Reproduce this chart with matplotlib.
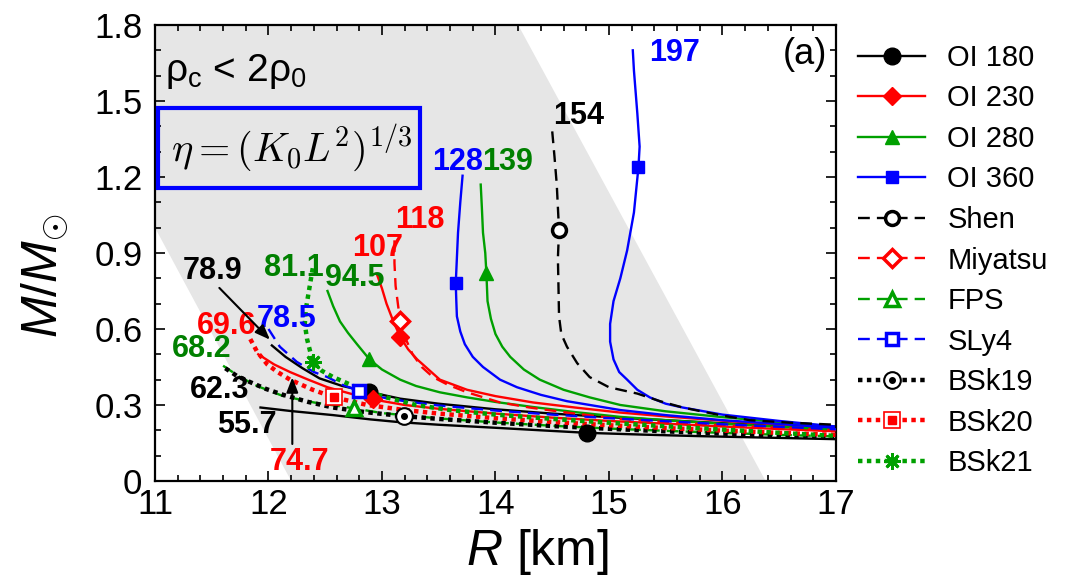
import matplotlib
matplotlib.use('Agg')
import matplotlib.pyplot as plt
from matplotlib.lines import Line2D
from matplotlib.patches import Polygon, Rectangle
from matplotlib.ticker import MultipleLocator, FuncFormatter

plt.rcParams['font.family'] = ['Liberation Sans', 'DejaVu Sans']
plt.rcParams['mathtext.fontset'] = 'custom'
plt.rcParams['mathtext.rm'] = 'Liberation Sans'
plt.rcParams['mathtext.it'] = 'Liberation Sans:italic'

# M-R curves (R in km, M in solar masses), one pair of lists per curve
oi180_a_R = [11.93, 12.2, 12.57, 12.9, 13.16, 13.5, 14.0, 14.4, 14.81, 15.3, 15.8, 16.4, 17.0]
oi180_a_M = [0.29, 0.276, 0.26, 0.243, 0.232, 0.222, 0.21, 0.2, 0.19, 0.183, 0.177, 0.171, 0.165]
oi180_b_R = [12.03, 12.15, 12.3, 12.45, 12.65, 12.89, 13.16, 13.5, 14.0, 14.5, 15.0, 15.5, 16.0, 16.5, 17.0]
oi180_b_M = [0.535, 0.49, 0.445, 0.405, 0.375, 0.351, 0.325, 0.305, 0.283, 0.266, 0.252, 0.24, 0.228, 0.218, 0.208]

oi230_a_R = [11.91, 12.05, 12.19, 12.35, 12.52, 12.72, 12.92, 13.2, 13.5, 14.0, 14.5, 15.0, 15.5, 16.0, 16.5, 17.0]
oi230_a_M = [0.50, 0.46, 0.43, 0.40, 0.37, 0.345, 0.322, 0.3, 0.285, 0.266, 0.25, 0.237, 0.226, 0.215, 0.205, 0.196]
oi230_b_R = [12.96, 13.0, 13.04, 13.1, 13.16, 13.23, 13.31, 13.41, 13.51, 13.75, 14.0, 14.33, 14.7, 15.1, 15.5, 16.0, 16.5, 17.0]
oi230_b_M = [0.81, 0.76, 0.70, 0.63, 0.57, 0.52, 0.48, 0.44, 0.40, 0.36, 0.335, 0.31, 0.29, 0.27, 0.255, 0.238, 0.222, 0.208]

oi280_a_R = [12.52, 12.57, 12.63, 12.7, 12.78, 12.89, 13.0, 13.16, 13.3, 13.51, 13.75, 14.0, 14.33, 14.7, 15.1, 15.5, 16.0, 16.5, 17.0]
oi280_a_M = [0.75, 0.69, 0.63, 0.585, 0.54, 0.48, 0.44, 0.40, 0.375, 0.35, 0.33, 0.312, 0.292, 0.272, 0.253, 0.24, 0.226, 0.214, 0.203]
oi280_b_R = [13.87, 13.88, 13.89, 13.91, 13.92, 13.93, 13.96, 14.0, 14.06, 14.13, 14.25, 14.39, 14.6, 14.83, 15.1, 15.5, 16.0, 16.5, 17.0]
oi280_b_M = [1.17, 1.08, 0.98, 0.90, 0.82, 0.71, 0.64, 0.58, 0.53, 0.49, 0.44, 0.40, 0.36, 0.33, 0.30, 0.275, 0.252, 0.232, 0.215]

oi360_a_R = [13.71, 13.69, 13.67, 13.66, 13.65, 13.655, 13.66, 13.69, 13.73, 13.8, 13.89, 14.04, 14.19, 14.4, 14.63, 15.1, 15.5, 16.0, 16.5, 17.0]
oi360_a_M = [1.205, 1.10, 0.98, 0.88, 0.78, 0.71, 0.65, 0.59, 0.54, 0.49, 0.45, 0.40, 0.37, 0.34, 0.315, 0.28, 0.26, 0.24, 0.225, 0.21]
oi360_b_R = [15.21, 15.22, 15.25, 15.27, 15.26, 15.22, 15.16, 15.1, 15.04, 15.01, 15.01, 15.04, 15.09, 15.16, 15.25, 15.36, 15.5, 15.65, 16.0, 16.5, 17.0]
oi360_b_M = [1.70, 1.62, 1.45, 1.32, 1.24, 1.06, 0.91, 0.80, 0.71, 0.62, 0.55, 0.48, 0.43, 0.40, 0.36, 0.33, 0.305, 0.29, 0.262, 0.237, 0.215]

shen_R = [14.50, 14.52, 14.54, 14.56, 14.55, 14.555, 14.56, 14.58, 14.63, 14.72, 14.83, 15.0, 15.25, 15.45, 15.65, 16.0, 16.24, 16.6, 17.0]
shen_M = [1.38, 1.28, 1.17, 0.99, 0.88, 0.77, 0.65, 0.58, 0.53, 0.465, 0.41, 0.37, 0.345, 0.315, 0.29, 0.258, 0.24, 0.23, 0.222]
miyatsu_R = [13.11, 13.11, 13.12, 13.16, 13.21, 13.27, 13.35, 13.45, 13.58, 13.75, 14.04, 14.3, 14.63, 15.1, 15.5, 16.0, 16.5, 17.0]
miyatsu_M = [0.95, 0.86, 0.77, 0.63, 0.56, 0.50, 0.45, 0.41, 0.38, 0.35, 0.31, 0.29, 0.27, 0.245, 0.232, 0.22, 0.21, 0.20]
fps_R = [11.6, 11.75, 11.9, 12.13, 12.4, 12.75, 13.0, 13.5, 14.0, 14.5, 15.0, 15.5, 16.0, 16.5, 17.0]
fps_M = [0.455, 0.41, 0.375, 0.335, 0.31, 0.287, 0.268, 0.247, 0.231, 0.218, 0.207, 0.198, 0.19, 0.182, 0.176]
sly4_R = [12.0, 12.1, 12.25, 12.4, 12.52, 12.65, 12.8, 13.0, 13.2, 13.5, 14.0, 14.5, 15.0, 15.5, 16.0, 16.5, 17.0]
sly4_M = [0.60, 0.53, 0.47, 0.43, 0.41, 0.38, 0.355, 0.33, 0.315, 0.298, 0.278, 0.262, 0.248, 0.236, 0.224, 0.214, 0.204]
bsk19_R = [11.62, 11.72, 11.84, 11.98, 12.13, 12.35, 12.57, 12.85, 13.19, 13.5, 14.0, 14.5, 15.0, 15.5, 16.0, 16.5, 17.0]
bsk19_M = [0.445, 0.415, 0.39, 0.363, 0.34, 0.312, 0.29, 0.272, 0.256, 0.245, 0.23, 0.217, 0.206, 0.196, 0.187, 0.179, 0.172]
bsk20_R = [11.84, 11.9, 11.99, 12.08, 12.19, 12.39, 12.58, 12.87, 13.2, 13.5, 14.0, 14.5, 15.0, 15.5, 16.0, 16.5, 17.0]
bsk20_M = [0.56, 0.51, 0.46, 0.43, 0.40, 0.36, 0.33, 0.30, 0.28, 0.266, 0.248, 0.233, 0.22, 0.209, 0.199, 0.19, 0.182]
bsk21_R = [12.39, 12.36, 12.33, 12.32, 12.34, 12.39, 12.47, 12.57, 12.8, 13.04, 13.3, 13.6, 14.0, 14.5, 15.0, 15.5, 16.0, 16.5, 17.0]
bsk21_M = [0.84, 0.76, 0.68, 0.62, 0.56, 0.47, 0.435, 0.41, 0.365, 0.33, 0.30, 0.28, 0.262, 0.245, 0.23, 0.216, 0.203, 0.19, 0.178]

# marked points on each curve
oi180_mark = ([12.89, 14.81], [0.351, 0.19])
oi230_mark = ([12.92, 13.16], [0.322, 0.57])
oi280_mark = ([12.89, 13.92], [0.48, 0.82])
oi360_mark = ([13.65, 15.26], [0.78, 1.24])
shen_mark = ([14.56], [0.99])
miyatsu_mark = ([13.16], [0.63])
fps_mark = ([12.75], [0.287])
sly4_mark = ([12.8], [0.355])
bsk19_mark = ([13.19], [0.256])
bsk20_mark = ([12.58], [0.33])
bsk21_mark = ([12.39], [0.47])

# eta values written next to the curves
eta_labels = ['197', '154', '128', '139', '118', '107', '81.1', '94.5',
              '78.9', '78.5', '69.6', '68.2', '62.3', '55.7', '74.7']

# region where rho_c < 2 rho_0
region_R = [11.0, 14.2, 16.38, 12.2, 11.0]
region_M = [1.8, 1.8, 0.0, 0.0, 1.0]

BLACK = 'black'
RED = '#ff0000'
GREEN = '#00a000'
DGREEN = '#008000'
BLUE = '#0000ff'

fig = plt.figure(figsize=(10.77, 5.84), dpi=100)
ax = fig.add_axes([0.1439, 0.1764, 0.6323, 0.7808])

ax.add_patch(Polygon(list(zip(region_R, region_M)), closed=True,
                     facecolor='#e6e6e6', edgecolor='none', zorder=0))

lw = 1.7
dash = (0, (5, 3))
dot = (0, (1, 1))

# OI EOS (solid)
for R, M, c in [(oi180_a_R, oi180_a_M, BLACK), (oi180_b_R, oi180_b_M, BLACK),
                (oi230_a_R, oi230_a_M, RED), (oi230_b_R, oi230_b_M, RED),
                (oi280_a_R, oi280_a_M, GREEN), (oi280_b_R, oi280_b_M, GREEN),
                (oi360_a_R, oi360_a_M, BLUE), (oi360_b_R, oi360_b_M, BLUE)]:
    ax.plot(R, M, color=c, lw=lw, zorder=2)

# other EOS (dashed)
for R, M, c in [(shen_R, shen_M, BLACK), (miyatsu_R, miyatsu_M, RED),
                (fps_R, fps_M, GREEN), (sly4_R, sly4_M, BLUE)]:
    ax.plot(R, M, color=c, lw=lw, ls=dash, zorder=3)

# BSk (thick dotted)
for R, M, c in [(bsk19_R, bsk19_M, BLACK), (bsk20_R, bsk20_M, RED),
                (bsk21_R, bsk21_M, GREEN)]:
    ax.plot(R, M, color=c, lw=3.2, ls=dot, zorder=4)

# marker styles shared by the plot and the legend
styles = {
    'OI 180': dict(marker='o', ms=12, mfc=BLACK, mec=BLACK),
    'OI 230': dict(marker='D', ms=9, mfc=RED, mec=RED),
    'OI 280': dict(marker='^', ms=10, mfc=GREEN, mec=GREEN),
    'OI 360': dict(marker='s', ms=8, mfc=BLUE, mec=BLUE),
    'Shen': dict(marker='o', ms=10, mfc='white', mec=BLACK, mew=2.5),
    'Miyatsu': dict(marker='D', ms=9, mfc='white', mec=RED, mew=2.5),
    'FPS': dict(marker='^', ms=10, mfc='white', mec=GREEN, mew=2.5),
    'SLy4': dict(marker='s', ms=8, mfc='white', mec=BLUE, mew=2.5),
    'BSk19': dict(marker='o', ms=12, mfc='white', mec=BLACK, mew=1.5),
    'BSk20': dict(marker='s', ms=11, mfc='white', mec=RED, mew=1.2),
    'BSk21': dict(marker=(8, 2, 0), ms=12, mfc=GREEN, mec=GREEN, mew=2),
}
inner = {
    'BSk19': dict(marker='o', ms=4, mfc=BLACK, mec=BLACK),
    'BSk20': dict(marker='s', ms=6, mfc=RED, mec=RED),
}
marks = {'OI 180': oi180_mark, 'OI 230': oi230_mark, 'OI 280': oi280_mark,
         'OI 360': oi360_mark, 'Shen': shen_mark, 'Miyatsu': miyatsu_mark,
         'FPS': fps_mark, 'SLy4': sly4_mark, 'BSk19': bsk19_mark,
         'BSk20': bsk20_mark, 'BSk21': bsk21_mark}
line_of = {'OI 180': (BLACK, '-', lw), 'OI 230': (RED, '-', lw),
           'OI 280': (GREEN, '-', lw), 'OI 360': (BLUE, '-', lw),
           'Shen': (BLACK, dash, lw), 'Miyatsu': (RED, dash, lw),
           'FPS': (GREEN, dash, lw), 'SLy4': (BLUE, dash, lw),
           'BSk19': (BLACK, dot, 3.2), 'BSk20': (RED, dot, 3.2),
           'BSk21': (GREEN, dot, 3.2)}

handles = []
for name, (mx, my) in marks.items():
    ax.plot(mx, my, ls='none', zorder=5, **styles[name])
    c, ls, w = line_of[name]
    h = Line2D([], [], color=c, ls=ls, lw=w, **styles[name])
    if name in inner:
        ax.plot(mx, my, ls='none', zorder=6, **inner[name])
        h = (h, Line2D([], [], ls='none', **inner[name]))
    handles.append(h)

# eta labels
label_pos = [(15.58, 1.69, BLUE), (14.73, 1.44, BLACK), (13.67, 1.26, BLUE),
             (14.11, 1.26, DGREEN), (13.33, 1.03, RED), (12.96, 0.92, RED),
             (12.22, 0.84, DGREEN), (12.76, 0.80, DGREEN), (11.51, 0.83, BLACK),
             (12.16, 0.64, BLUE), (11.63, 0.61, RED), (11.41, 0.52, DGREEN),
             (11.57, 0.36, BLACK), (11.81, 0.22, BLACK), (12.27, 0.075, RED)]
for txt, (x, y, c) in zip(eta_labels, label_pos):
    ax.text(x, y, txt, color=c, fontsize=22, fontweight='bold',
            ha='center', va='center', zorder=7)

ax.annotate('', xy=(12.03, 0.55), xytext=(11.55, 0.77),
            arrowprops=dict(arrowstyle='-|>,head_length=0.9,head_width=0.35',
                            color='black', lw=1.5), zorder=7)
ax.annotate('', xy=(12.21, 0.42), xytext=(12.21, 0.135),
            arrowprops=dict(arrowstyle='-|>,head_length=0.9,head_width=0.35',
                            color='black', lw=1.5), zorder=7)

ax.text(0.015, 0.897, r'ρ$_\mathregular{c}$ < 2ρ$_\mathregular{0}$',
        transform=ax.transAxes, fontsize=28, va='center', ha='left')
ax.add_patch(Rectangle((0.004, 0.643), 0.385, 0.175, transform=ax.transAxes,
                       fill=False, edgecolor=BLUE, lw=3, zorder=8))
ax.text(0.2, 0.73, r'$\eta = (K_0 L^2)^{1/3}$', transform=ax.transAxes,
        fontsize=29, ha='center', va='center', math_fontfamily='cm')
ax.text(0.955, 0.935, '(a)', transform=ax.transAxes, fontsize=26,
        ha='center', va='center')

ax.set_xlim(11, 17)
ax.set_ylim(0, 1.8)
ax.xaxis.set_major_locator(MultipleLocator(1))
ax.xaxis.set_minor_locator(MultipleLocator(0.2))
ax.yaxis.set_major_locator(MultipleLocator(0.3))
ax.yaxis.set_minor_locator(MultipleLocator(0.1))
ax.yaxis.set_major_formatter(FuncFormatter(lambda v, p: '%g' % round(v, 2)))
ax.tick_params(which='both', direction='in', top=True, right=True,
               labelsize=25, width=1.2)
ax.tick_params(which='major', length=7)
ax.tick_params(axis='x', which='major', pad=5)
ax.tick_params(axis='y', which='major', pad=9)
ax.tick_params(which='minor', length=4)
for s in ax.spines.values():
    s.set_linewidth(1.6)

ax.set_xlabel(r'$R$ [km]', fontsize=36)
ax.xaxis.set_label_coords(0.561, -0.1)
ax.set_ylabel(r'$M/M_{\odot}$', fontsize=36)
ax.yaxis.set_label_coords(-0.125, 0.45)

fig.legend(handles, list(marks.keys()), loc='upper left',
           bbox_to_anchor=(0.797, 0.925), frameon=False, fontsize=21,
           handlelength=2.3, handletextpad=0.75, labelspacing=0.43,
           borderpad=0, borderaxespad=0)

fig.savefig('out.png', dpi=100)
